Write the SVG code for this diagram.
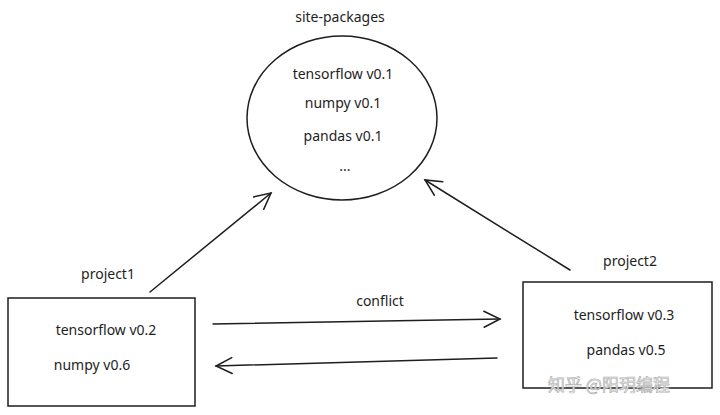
<svg xmlns="http://www.w3.org/2000/svg" width="720" height="415" viewBox="0 0 720 415">
<defs>
<style>
.t{font-family:"Noto Sans","Liberation Sans",sans-serif;font-size:14px;fill:#1e1e1e;text-anchor:middle}
.s{fill:none;stroke:#1e1e1e;stroke-width:1.5;stroke-linecap:round}
.wm{font-family:"Noto Sans CJK SC",sans-serif;font-size:17px;fill:#ffffff;stroke:#b0b0b0;stroke-width:0.7}
</style>
<marker id="ah" viewBox="0 0 20 20" refX="18" refY="10" markerWidth="20" markerHeight="20" markerUnits="userSpaceOnUse" orient="auto">
<path d="M2 2 L18 10 L2 18" fill="none" stroke="#1e1e1e" stroke-width="1.5" stroke-linecap="round"/>
</marker>
</defs>
<rect width="720" height="415" fill="#ffffff"/>
<g id="site-packages">
<text class="t" x="340" y="22">site-packages</text>
<ellipse class="s" cx="342" cy="118" rx="95" ry="82"/>
<text class="t" x="343" y="79">tensorflow v0.1</text>
<text class="t" x="343" y="108">numpy v0.1</text>
<text class="t" x="343" y="141">pandas v0.1</text>
<text class="t" x="345" y="171">...</text>
</g>
<g id="project1">
<text class="t" x="108" y="279">project1</text>
<rect class="s" x="8" y="298" width="187" height="108"/>
<text class="t" x="106" y="335">tensorflow v0.2</text>
<text class="t" x="92" y="370">numpy v0.6</text>
</g>
<g id="project2">
<text class="t" x="630" y="266">project2</text>
<rect class="s" x="523" y="282" width="189" height="106"/>
<text class="t" x="624" y="320">tensorflow v0.3</text>
<text class="t" x="626" y="355">pandas v0.5</text>
</g>
<g id="connectors">
<path class="s" d="M150 292 L271 193" marker-end="url(#ah)"/>
<path class="s" d="M570 270 L425 180" marker-end="url(#ah)"/>
<path class="s" d="M213 324 L500 319" marker-end="url(#ah)"/>
<text class="t" x="380" y="306">conflict</text>
<path class="s" d="M497 358 L216 366" marker-end="url(#ah)"/>
</g>
<text class="wm" x="548" y="391">知乎 @阳玥编程</text>
</svg>
